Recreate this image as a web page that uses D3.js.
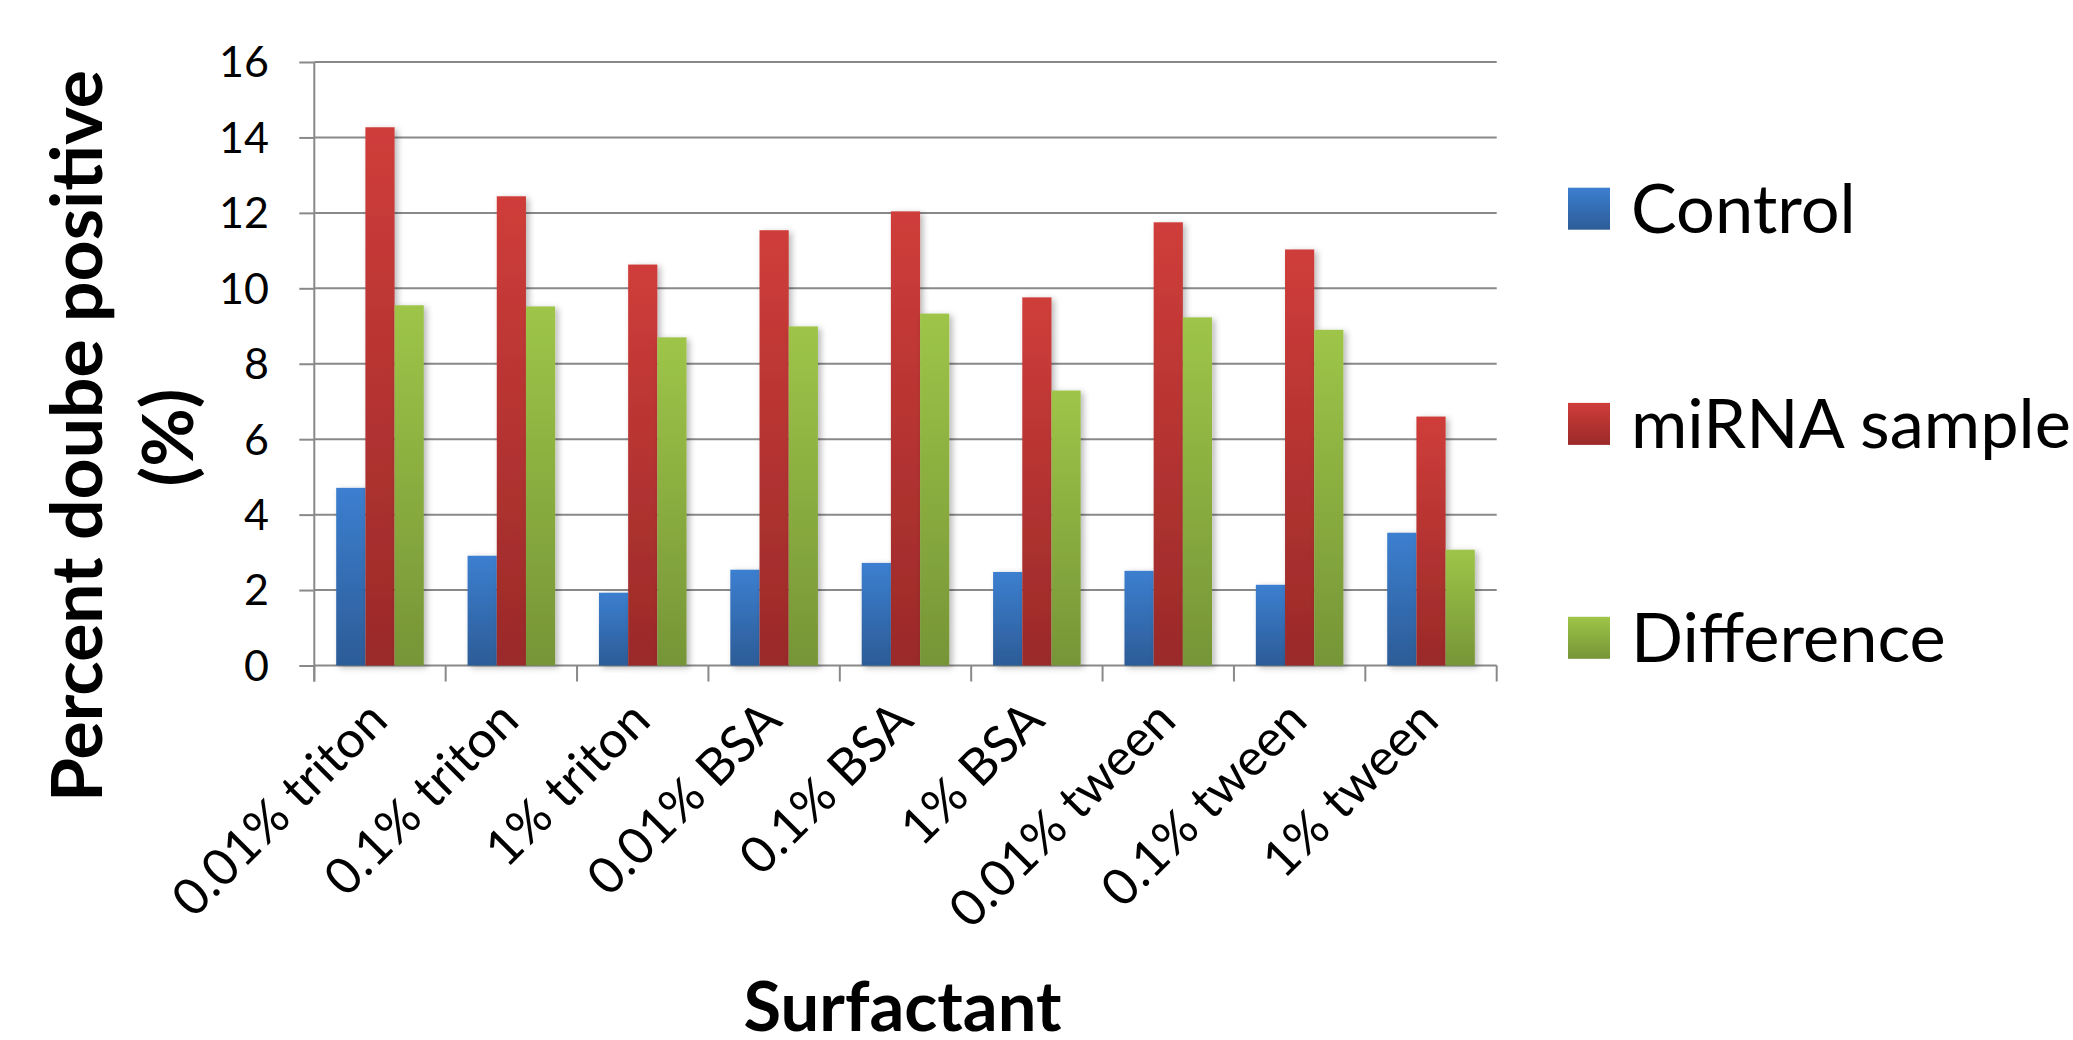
<!DOCTYPE html>
<html>
<head>
<meta charset="utf-8">
<script src="https://cdn.jsdelivr.net/npm/d3@7"></script>
<style>
  html, body { margin: 0; padding: 0; background: #ffffff; }
  svg { display: block; }
  text { font-family: Lato, "Open Sans", sans-serif; fill: #000; }
</style>
</head>
<body>
<svg id="chart" width="2073" height="1040"></svg>
<script>
// Surfactant conditions along the x axis
const categories = ["0.01% triton", "0.1% triton", "1% triton", "0.01% BSA", "0.1% BSA",
                    "1% BSA", "0.01% tween", "0.1% tween", "1% tween"];
const seriesNames = ["Control", "miRNA sample", "Difference"];

// Percent double positive per condition
const control    = [4.71, 2.91, 1.93, 2.54, 2.72, 2.48, 2.51, 2.14, 3.52];
const mirna      = [14.27, 12.44, 10.63, 11.54, 12.04, 9.76, 11.75, 11.03, 6.60];
const difference = [9.55, 9.52, 8.70, 8.99, 9.33, 7.29, 9.23, 8.90, 3.07];

const yTicks = [0, 2, 4, 6, 8, 10, 12, 14, 16];

const seriesValues = [control, mirna, difference];
const gradStops = [
  ["#3c7fd0", "#2c5c97"],
  ["#cf3d3a", "#9a2a29"],
  ["#9ec548", "#769537"]
];

const svg = d3.select("#chart");
svg.append("rect").attr("width", 2073).attr("height", 1040).attr("fill", "#fff");

const defs = svg.append("defs");
seriesNames.forEach((name, i) => {
  const g = defs.append("linearGradient")
    .attr("id", "grad" + i).attr("x1", 0).attr("y1", 0).attr("x2", 0).attr("y2", 1);
  g.append("stop").attr("offset", "0%").attr("stop-color", gradStops[i][0]);
  g.append("stop").attr("offset", "100%").attr("stop-color", gradStops[i][1]);
});
const shadow = defs.append("filter").attr("id", "barShadow")
  .attr("x", "-20%").attr("y", "-5%").attr("width", "150%").attr("height", "115%");
shadow.append("feDropShadow").attr("dx", 3).attr("dy", 2).attr("stdDeviation", 3)
  .attr("flood-color", "#000").attr("flood-opacity", 0.28);

// Measure a string at 100px and return the size that gives the wanted length
function fitSize(text, weight, target) {
  const t = svg.append("text").attr("font-size", 100).attr("font-weight", weight).text(text);
  const len = t.node().getComputedTextLength();
  t.remove();
  return 100 * target / len;
}

const plot = { left: 314.3, right: 1496.7, top: 62, bottom: 665.5 };

const x = d3.scaleBand().domain(categories).range([plot.left, plot.right]).padding(0);
const bw = x.bandwidth();
const barW = bw / 4.5;
const xs = d3.scaleBand().domain(seriesNames)
  .range([0.75 * barW, bw - 0.75 * barW]).padding(0);
const y = d3.scaleLinear().domain([0, 16]).range([plot.bottom, plot.top]);

const gridColor = "#898989";

// Horizontal gridlines with left tick marks
const yAxis = d3.axisLeft(y).tickValues(yTicks).tickSize(15).tickFormat("");
const yAxisG = svg.append("g").attr("transform", `translate(${plot.left},0)`).call(yAxis);
yAxisG.select(".domain").remove();
yAxisG.selectAll(".tick line").attr("stroke", gridColor).attr("stroke-width", 2);
svg.append("g").selectAll("line").data(yTicks).join("line")
  .attr("x1", plot.left).attr("x2", plot.right)
  .attr("y1", d => y(d)).attr("y2", d => y(d))
  .attr("stroke", gridColor).attr("stroke-width", 2);
svg.append("line")
  .attr("x1", plot.left).attr("x2", plot.left)
  .attr("y1", plot.top).attr("y2", plot.bottom + 16)
  .attr("stroke", gridColor).attr("stroke-width", 2);

// Y tick labels
const tickFs = 43;
svg.append("g").selectAll("text").data(yTicks).join("text")
  .attr("x", 269).attr("y", d => y(d) + tickFs * 0.358)
  .attr("text-anchor", "end").attr("font-size", tickFs)
  .text(d => d);

// Category tick marks below the x axis
const boundaries = categories.map(c => x(c)).concat([plot.right]);
svg.append("g").selectAll("line").data(boundaries).join("line")
  .attr("x1", d => d).attr("x2", d => d)
  .attr("y1", plot.bottom).attr("y2", plot.bottom + 16)
  .attr("stroke", gridColor).attr("stroke-width", 2);

// Bars
const groups = svg.append("g").selectAll("g").data(categories).join("g")
  .attr("transform", c => `translate(${x(c)},0)`);
groups.selectAll("rect")
  .data((c, ci) => seriesNames.map((s, si) => ({ s, si, v: seriesValues[si][ci] })))
  .join("rect")
  .attr("x", d => xs(d.s))
  .attr("width", xs.bandwidth())
  .attr("y", d => y(d.v))
  .attr("height", d => y(0) - y(d.v))
  .attr("fill", d => `url(#grad${d.si})`)
  .attr("filter", "url(#barShadow)");

// Category labels, rotated
const catFs = fitSize("0.01% triton", 400, 278);
svg.append("g").selectAll("text").data(categories).join("text")
  .attr("transform", c => `translate(${x(c) + bw / 2 + 10},723) rotate(-45)`)
  .attr("text-anchor", "end").attr("font-size", catFs)
  .text(c => c);

// Axis titles
const yTitleFs = fitSize("Percent doube positive", 700, 732);
svg.append("text").attr("font-weight", 700).attr("font-size", yTitleFs)
  .attr("text-anchor", "middle")
  .attr("transform", "translate(101.7,436) rotate(-90)")
  .text("Percent doube positive");
svg.append("text").attr("font-weight", 700).attr("font-size", yTitleFs)
  .attr("text-anchor", "middle")
  .attr("transform", "translate(193,437.5) rotate(-90)")
  .text("(%)");

const xTitleFs = fitSize("Surfactant", 700, 318);
svg.append("text").attr("font-weight", 700).attr("font-size", xTitleFs)
  .attr("text-anchor", "middle").attr("x", 902.5).attr("y", 1031)
  .text("Surfactant");

// Legend
const legendFs = fitSize("miRNA sample", 400, 440);
const legendY = [208.7, 423.9, 637.8];
const legend = svg.append("g").selectAll("g").data(seriesNames).join("g")
  .attr("transform", (d, i) => `translate(1568,${legendY[i]})`);
legend.append("rect")
  .attr("x", 0).attr("y", -21).attr("width", 42).attr("height", 42)
  .attr("fill", (d, i) => `url(#grad${i})`);
legend.append("text")
  .attr("x", 63).attr("y", legendFs * 0.358)
  .attr("font-size", legendFs)
  .text(d => d);
</script>
</body>
</html>
